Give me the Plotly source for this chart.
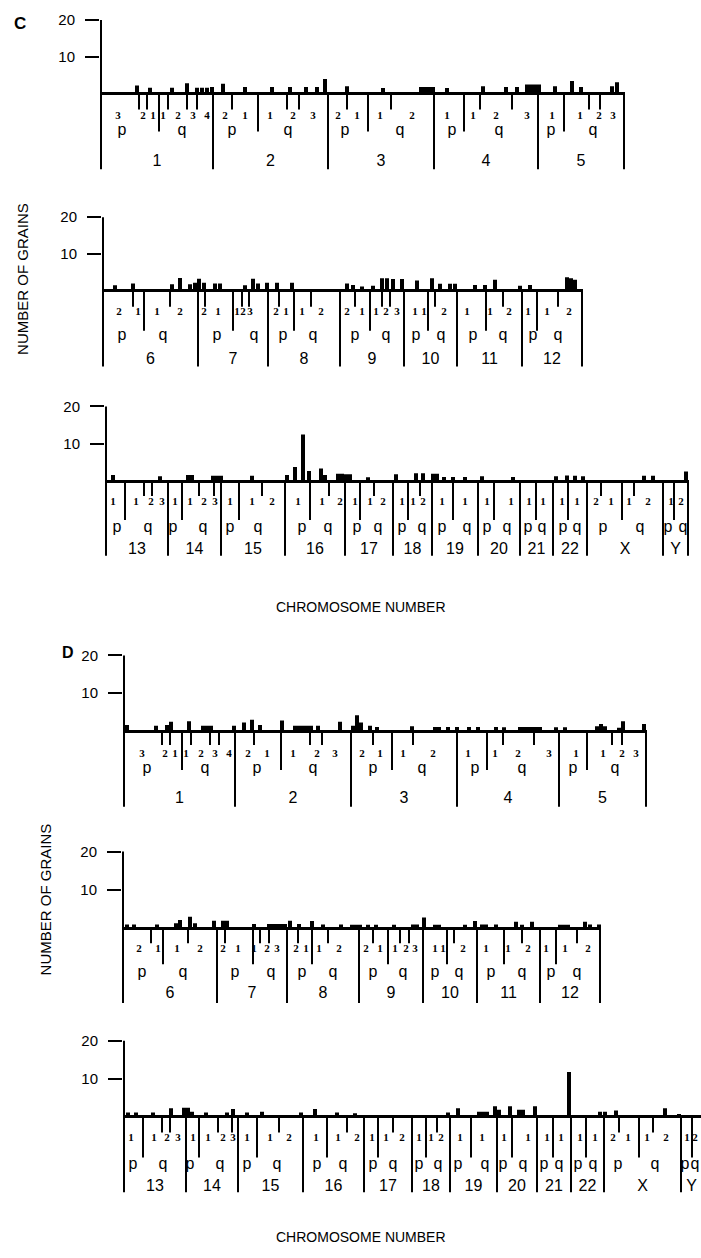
import plotly.graph_objects as go

W, H = 701, 1258

# ======================= DATA =======================
# x positions are ideogram units measured from the start of each row's
# first chromosome; bar heights are numbers of grains.

# ---- Panel C, row 1 ----
C1_CHROMS = ["1", "2", "3", "4", "5"]
C1_BOUNDS = [0, 112, 227, 333, 437, 523]
C1_CENTRO = [58, 157, 267, 363, 463]
C1_BANDTICKS = [38, 46, 67, 86, 96, 131, 186, 198, 246, 290, 379, 411, 488, 499]
C1_BAND_X = [17, 42, 52, 62, 77, 92, 106, 124, 144, 169, 192, 212, 237, 256, 279, 311,
             346, 372, 395, 426, 451, 479, 498, 512]
C1_BAND_T = ["3", "2", "1", "1", "2", "3", "4", "2", "1", "1", "2", "3", "2", "1", "1", "2",
             "1", "1", "2", "3", "1", "1", "2", "3"]
C1_P_X = [21, 131, 244, 351, 450]
C1_Q_X = [81, 187, 299, 398, 492]
C1_BAR_X = [36, 49, 71, 86, 96, 101, 106, 111, 122, 144, 171, 189, 205, 216, 224, 246, 282,
            320, 324, 328, 332, 346, 382, 405, 416, 426, 430, 434, 438, 454, 471, 480, 511, 516]
C1_BAR_Y = [2.2, 1.6, 1.6, 2.8, 1.6, 1.6, 1.6, 1.8, 2.7, 1.8, 1.8, 1.8, 1.8, 1.8, 4.0, 2.0, 1.5,
            1.8, 1.8, 1.8, 1.8, 1.5, 2.0, 1.8, 1.8, 2.5, 2.5, 2.5, 2.5, 2.0, 3.4, 1.8, 2.0, 3.1]

# ---- Panel C, row 2 ----
C2_CHROMS = ["6", "7", "8", "9", "10", "11", "12"]
C2_BOUNDS = [0, 95, 165, 237, 301, 354, 419, 479]
C2_CENTRO = [41, 130, 191, 267, 325, 383, 434]
C2_BANDTICKS = [30, 67, 102, 139, 146, 176, 208, 252, 279, 287, 332, 400, 455]
C2_BAND_X = [16, 35, 54, 77, 101, 115, 134, 140, 147, 173, 183, 199, 218,
             244, 259, 273, 283, 294, 312, 321, 341, 364, 387, 406, 425, 444, 466]
C2_BAND_T = ["2", "1", "1", "2", "2", "1", "1", "2", "3", "2", "1", "1", "2",
             "2", "1", "1", "2", "3", "1", "1", "2", "1", "1", "2", "1", "1", "2"]
C2_P_X = [19, 114, 180, 252, 313, 370, 430]
C2_Q_X = [60, 151, 210, 283, 338, 400, 455]
C2_BAR_X = [12, 30, 69, 77, 87, 92, 96, 101, 112, 117, 142, 150, 155, 164, 174, 189, 244, 250,
            259, 270, 279, 284, 290, 299, 314, 329, 337, 347, 352, 372, 382, 392, 417, 427,
            464, 468, 472]
C2_BAR_Y = [1.5, 2.0, 1.8, 3.5, 1.8, 2.2, 3.3, 2.2, 2.0, 2.0, 1.5, 3.3, 2.0, 2.2, 2.2, 2.2, 2.0, 1.6,
            1.2, 1.4, 3.4, 3.4, 3.2, 3.2, 2.8, 3.4, 1.9, 1.9, 1.9, 1.6, 1.6, 3.0, 1.4, 1.6,
            3.7, 3.4, 3.0]

# ---- Panel C, row 3 ----
C3_CHROMS = ["13", "14", "15", "16", "17", "18", "19", "20", "21", "22", "X", "Y"]
C3_BOUNDS = [0, 62, 115, 179, 239, 287, 326, 372, 414, 447, 481, 557, 582]
C3_CENTRO = [19, 76, 133, 204, 254, 302, 347, 388, 430, 462, 516, 568]
C3_BANDTICKS = [38, 46, 93, 108, 156, 223, 268, 314, 495, 528]
C3_BAND_X = [7, 30, 45, 56, 69, 84, 98, 109, 124, 146, 166, 192, 216, 234, 249, 264, 277,
             296, 307, 317, 336, 359, 381, 405, 423, 437, 456, 471, 490, 505, 523, 542, 565, 575]
C3_BAND_T = ["1", "1", "2", "3", "1", "1", "2", "3", "1", "1", "2", "1", "1", "2", "1", "1", "2",
             "1", "1", "2", "1", "1", "1", "1", "1", "1", "1", "1", "2", "1", "1", "2", "1", "2"]
C3_P_X = [11, 67, 124, 196, 251, 296, 336, 381, 422, 457, 497, 562]
C3_Q_X = [42, 97, 152, 222, 272, 316, 361, 401, 436, 471, 534, 577]
C3_BAR_X = [7, 54, 82, 86, 107, 111, 115, 146, 181, 189, 197, 203, 215, 219, 232, 236, 240, 244,
            262, 290, 310, 317, 327, 331, 338, 347, 359, 376, 407, 450, 461, 469, 477, 538, 547, 580]
C3_BAR_Y = [1.6, 1.3, 1.6, 1.6, 1.4, 1.4, 1.4, 1.4, 1.6, 3.8, 12.5, 2.7, 3.4, 1.6, 2.0, 2.0, 1.8, 1.8,
            1.0, 1.8, 2.1, 2.1, 2.0, 2.0, 1.1, 1.1, 1.1, 1.3, 1.1, 1.3, 1.5, 1.4, 1.3, 1.4, 1.4, 2.6]

# ---- Panel D, row 1 ----
D1_CHROMS = ["1", "2", "3", "4", "5"]
D1_BOUNDS = [0, 111, 227, 333, 435, 522]
D1_CENTRO = [58, 157, 268, 363, 463]
D1_BANDTICKS = [38, 46, 67, 86, 95, 130, 186, 198, 249, 289, 379, 410, 488, 498]
D1_BAND_X = [18, 41, 51, 62, 77, 91, 105, 124, 143, 169, 193, 211, 238, 256, 279, 309,
             344, 371, 394, 425, 452, 479, 498, 512]
D1_BAND_T = ["3", "2", "1", "1", "2", "3", "4", "2", "1", "1", "2", "3", "2", "1", "1", "2",
             "1", "1", "2", "3", "1", "1", "2", "3"]
D1_P_X = [23, 133, 249, 351, 449]
D1_Q_X = [81, 189, 298, 398, 491]
D1_BAR_X = [3, 32, 43, 47, 65, 79, 83, 87, 110, 120, 128, 136, 158, 171, 175, 179, 183, 187, 194,
            216, 229, 233, 237, 246, 253, 288, 311, 315, 324, 333, 345, 354, 372, 380, 396, 400,
            404, 408, 412, 416, 432, 441, 473, 477, 481, 495, 499, 520]
D1_BAR_Y = [1.6, 1.4, 1.6, 2.5, 2.6, 1.4, 1.4, 1.4, 1.4, 2.3, 3.0, 1.6, 2.8, 1.4, 1.4, 1.4, 1.4, 1.4, 1.4,
            2.5, 1.4, 4.2, 2.3, 1.4, 1.1, 1.3, 1.1, 1.1, 1.1, 1.1, 1.1, 1.1, 1.1, 1.0, 1.1, 1.1,
            1.1, 1.1, 1.1, 1.1, 1.0, 1.0, 1.3, 1.9, 1.3, 0.9, 2.6, 1.9]

# ---- Panel D, row 2 ----
D2_CHROMS = ["6", "7", "8", "9", "10", "11", "12"]
D2_BOUNDS = [0, 94, 164, 236, 300, 354, 417, 477]
D2_CENTRO = [40, 130, 189, 265, 324, 381, 433]
D2_BANDTICKS = [28, 65, 102, 137, 146, 175, 205, 250, 277, 286, 331, 399, 454]
D2_BAND_X = [16, 35, 54, 77, 100, 115, 131, 144, 154, 173, 183, 196, 216,
             243, 257, 272, 283, 292, 312, 320, 340, 363, 385, 405, 423, 442, 465]
D2_BAND_T = ["2", "1", "1", "2", "2", "1", "1", "2", "3", "2", "1", "1", "2",
             "2", "1", "1", "2", "3", "1", "1", "2", "1", "1", "2", "1", "1", "2"]
D2_P_X = [19, 112, 179, 250, 312, 368, 428]
D2_Q_X = [60, 148, 210, 280, 336, 399, 454]
D2_BAR_X = [4, 11, 34, 53, 57, 67, 72, 91, 100, 104, 131, 146, 150, 154, 158, 162, 167, 176, 189,
            200, 218, 229, 233, 237, 245, 253, 271, 290, 294, 301, 312, 316, 342, 352, 359, 363,
            373, 393, 399, 409, 437, 441, 445, 462, 467, 476]
D2_BAR_Y = [1.0, 1.0, 1.0, 1.3, 2.2, 3.0, 1.3, 2.0, 2.0, 2.0, 1.1, 1.1, 1.1, 1.1, 1.1, 1.1, 2.0, 1.1, 1.9,
            1.0, 1.0, 0.9, 0.9, 0.9, 0.9, 0.9, 0.9, 1.0, 1.0, 2.8, 0.9, 0.9, 0.9, 1.9, 1.0, 1.0,
            1.0, 1.7, 0.9, 1.7, 0.9, 0.9, 0.9, 1.7, 1.0, 1.0]

# ---- Panel D, row 3 (the Y chromosome runs off the right edge) ----
D3_CHROMS = ["13", "14", "15", "16", "17", "18", "19", "20", "21", "22", "X", "Y"]
D3_BOUNDS = [0, 62, 114, 179, 240, 288, 326, 373, 413, 447, 480, 557, 578]
D3_CENTRO = [19, 75, 133, 203, 254, 302, 347, 388, 429, 462, 515, 568]
D3_BANDTICKS = [38, 46, 94, 108, 155, 223, 269, 313, 495, 529]
D3_BAND_X = [7, 30, 43, 54, 69, 84, 99, 109, 123, 146, 165, 192, 214, 233, 248, 262, 278,
             295, 307, 317, 336, 358, 380, 404, 423, 437, 456, 471, 489, 504, 523, 542, 563, 571]
D3_BAND_T = ["1", "1", "2", "3", "1", "1", "2", "3", "1", "1", "2", "1", "1", "2", "1", "1", "2",
             "1", "1", "2", "1", "1", "1", "1", "1", "1", "1", "1", "2", "1", "1", "2", "1", "2"]
D3_P_X = [9, 66, 123, 193, 249, 295, 334, 379, 420, 454, 494, 561]
D3_Q_X = [39, 96, 153, 219, 269, 314, 361, 399, 435, 469, 531, 571]
D3_BAR_X = [4, 12, 29, 47, 60, 64, 68, 82, 103, 109, 123, 138, 177, 191, 213, 231, 324, 334, 355,
            359, 363, 371, 375, 386, 395, 399, 411, 445, 476, 481, 492, 541, 555]
D3_BAR_Y = [1.1, 1.1, 1.1, 2.2, 2.3, 2.3, 1.3, 1.1, 1.1, 2.0, 1.1, 1.3, 1.1, 2.0, 1.1, 0.9, 1.1, 2.2, 1.3,
            1.3, 1.3, 2.7, 1.8, 2.7, 1.8, 1.8, 2.7, 11.8, 1.3, 1.3, 1.6, 2.2, 0.7]

Y_TICKS = [10, 20]
Y_TITLE = "NUMBER OF GRAINS"
X_TITLE = "CHROMOSOME NUMBER"

ROWS = [
    ("C1", C1_CHROMS, C1_BOUNDS, C1_CENTRO, C1_BANDTICKS, C1_BAND_X, C1_BAND_T, C1_P_X, C1_Q_X, C1_BAR_X, C1_BAR_Y),
    ("C2", C2_CHROMS, C2_BOUNDS, C2_CENTRO, C2_BANDTICKS, C2_BAND_X, C2_BAND_T, C2_P_X, C2_Q_X, C2_BAR_X, C2_BAR_Y),
    ("C3", C3_CHROMS, C3_BOUNDS, C3_CENTRO, C3_BANDTICKS, C3_BAND_X, C3_BAND_T, C3_P_X, C3_Q_X, C3_BAR_X, C3_BAR_Y),
    ("D1", D1_CHROMS, D1_BOUNDS, D1_CENTRO, D1_BANDTICKS, D1_BAND_X, D1_BAND_T, D1_P_X, D1_Q_X, D1_BAR_X, D1_BAR_Y),
    ("D2", D2_CHROMS, D2_BOUNDS, D2_CENTRO, D2_BANDTICKS, D2_BAND_X, D2_BAND_T, D2_P_X, D2_Q_X, D2_BAR_X, D2_BAR_Y),
    ("D3", D3_CHROMS, D3_BOUNDS, D3_CENTRO, D3_BANDTICKS, D3_BAND_X, D3_BAND_T, D3_P_X, D3_Q_X, D3_BAR_X, D3_BAR_Y),
]

# ======================= STYLE / GEOMETRY =======================
GEOM = {
    "C1": dict(origin=101, base=89, s=3.7, L=523, tick=16, cen=38, bnd=76, lab=23, pq=38, num=69),
    "C2": dict(origin=103, base=287, s=3.7, L=479, tick=16, cen=40, bnd=76, lab=21, pq=45, num=69),
    "C3": dict(origin=106, base=478, s=3.75, L=582, tick=15, cen=39, bnd=75, lab=21, pq=47, num=69),
    "D1": dict(origin=124, base=729, s=3.8, L=522, tick=14, cen=39, bnd=76, lab=23, pq=38, num=68),
    "D2": dict(origin=123, base=927, s=3.85, L=477, tick=15, cen=36, bnd=75, lab=21, pq=45, num=66),
    "D3": dict(origin=124, base=1116, s=3.8, L=576, tick=16, cen=41, bnd=76, lab=22, pq=49, num=71),
}
BAR_W = 4
SANS = "Liberation Sans, Arial, Helvetica, sans-serif"
SERIF = "Liberation Serif, Times New Roman, serif"
INK = "black"

fig = go.Figure()
layout_axes = {}

for i, (name, chroms, bounds, centro, bticks, bx, bt, pxs, qxs, barx, bary) in enumerate(ROWS, start=1):
    g = GEOM[name]
    s = g["s"]
    xa = "x" if i == 1 else f"x{i}"
    ya = "y" if i == 1 else f"y{i}"

    fig.add_trace(go.Bar(x=barx, y=bary, width=BAR_W, base=0,
                         marker=dict(color=INK, line=dict(width=0)),
                         xaxis=xa, yaxis=ya, hoverinfo="skip"))

    lx, ly = [], []
    for xs, depth in ((bticks, g["tick"]), (centro, g["cen"]), (bounds, g["bnd"])):
        for v in xs:
            lx += [v, v, None]
            ly += [0, -depth / s, None]
    lx += [0, 0, None]
    ly += [0, Y_TICKS[-1], None]
    fig.add_trace(go.Scatter(x=lx, y=ly, mode="lines", line=dict(color=INK, width=2),
                             xaxis=xa, yaxis=ya, hoverinfo="skip"))

    fig.add_trace(go.Scatter(x=bx, y=[-g["lab"] / s] * len(bx), mode="text", text=bt,
                             textfont=dict(family=SERIF, size=11, color=INK, weight="bold"),
                             cliponaxis=False, xaxis=xa, yaxis=ya, hoverinfo="skip"))
    fig.add_trace(go.Scatter(x=pxs + qxs, y=[-g["pq"] / s] * (len(pxs) + len(qxs)), mode="text",
                             text=["p"] * len(pxs) + ["q"] * len(qxs),
                             textfont=dict(family=SANS, size=16, color=INK),
                             cliponaxis=False, xaxis=xa, yaxis=ya, hoverinfo="skip"))
    mids = [(bounds[k] + bounds[k + 1]) / 2 for k in range(len(chroms))]
    fig.add_trace(go.Scatter(x=mids, y=[-g["num"] / s] * len(mids), mode="text", text=chroms,
                             textfont=dict(family=SANS, size=16, color=INK),
                             cliponaxis=False, xaxis=xa, yaxis=ya, hoverinfo="skip"))

    x0 = (g["origin"] - 1) / W
    x1 = min(1.0, (g["origin"] + g["L"] + 1) / W)
    ytop = 21.0
    ylo = -(g["bnd"] + 4) / s
    top_px = g["base"] - ytop * s
    bot_px = g["base"] - ylo * s
    layout_axes["xaxis" if i == 1 else f"xaxis{i}"] = dict(
        domain=[x0, x1], range=[-1, g["L"] + 1], visible=False, anchor=ya, fixedrange=True)
    layout_axes["yaxis" if i == 1 else f"yaxis{i}"] = dict(
        domain=[1 - bot_px / H, 1 - top_px / H], range=[ylo, ytop], anchor=xa,
        tickvals=Y_TICKS, ticktext=[str(t) for t in Y_TICKS],
        ticks="outside", ticklen=14, tickwidth=2, tickcolor=INK,
        tickfont=dict(family=SANS, size=15, color=INK), ticklabelstandoff=7,
        showline=False, showgrid=False, zeroline=True, zerolinecolor=INK, zerolinewidth=2.5,
        fixedrange=True)


def note(text, xpx, ypx, size, angle=0, bold=False):
    return dict(text=text, x=xpx / W, y=1 - ypx / H, xref="paper", yref="paper",
                xanchor="center", yanchor="middle", showarrow=False, textangle=angle,
                font=dict(family=SANS, size=size, color=INK, weight="bold" if bold else "normal"))


annotations = [
    note("C", 20, 19, 17, bold=True),
    note("D", 68, 650, 16, bold=True),
    note(Y_TITLE, 23, 275, 15, angle=-90),
    note(Y_TITLE, 45, 898, 15, angle=-90),
    note(X_TITLE, 361, 604, 14),
    note(X_TITLE, 361, 1237, 14),
]

fig.update_layout(
    width=W, height=H, margin=dict(l=0, r=0, t=0, b=0),
    paper_bgcolor="white", plot_bgcolor="white",
    showlegend=False, hovermode=False, barmode="overlay",
    annotations=annotations, **layout_axes)

# remove the browser's default page margin so the figure fills the window exactly
fig.write_html("out.html", config={"displayModeBar": False},
               post_script="document.body.style.margin='0';document.body.style.overflow='hidden';")
